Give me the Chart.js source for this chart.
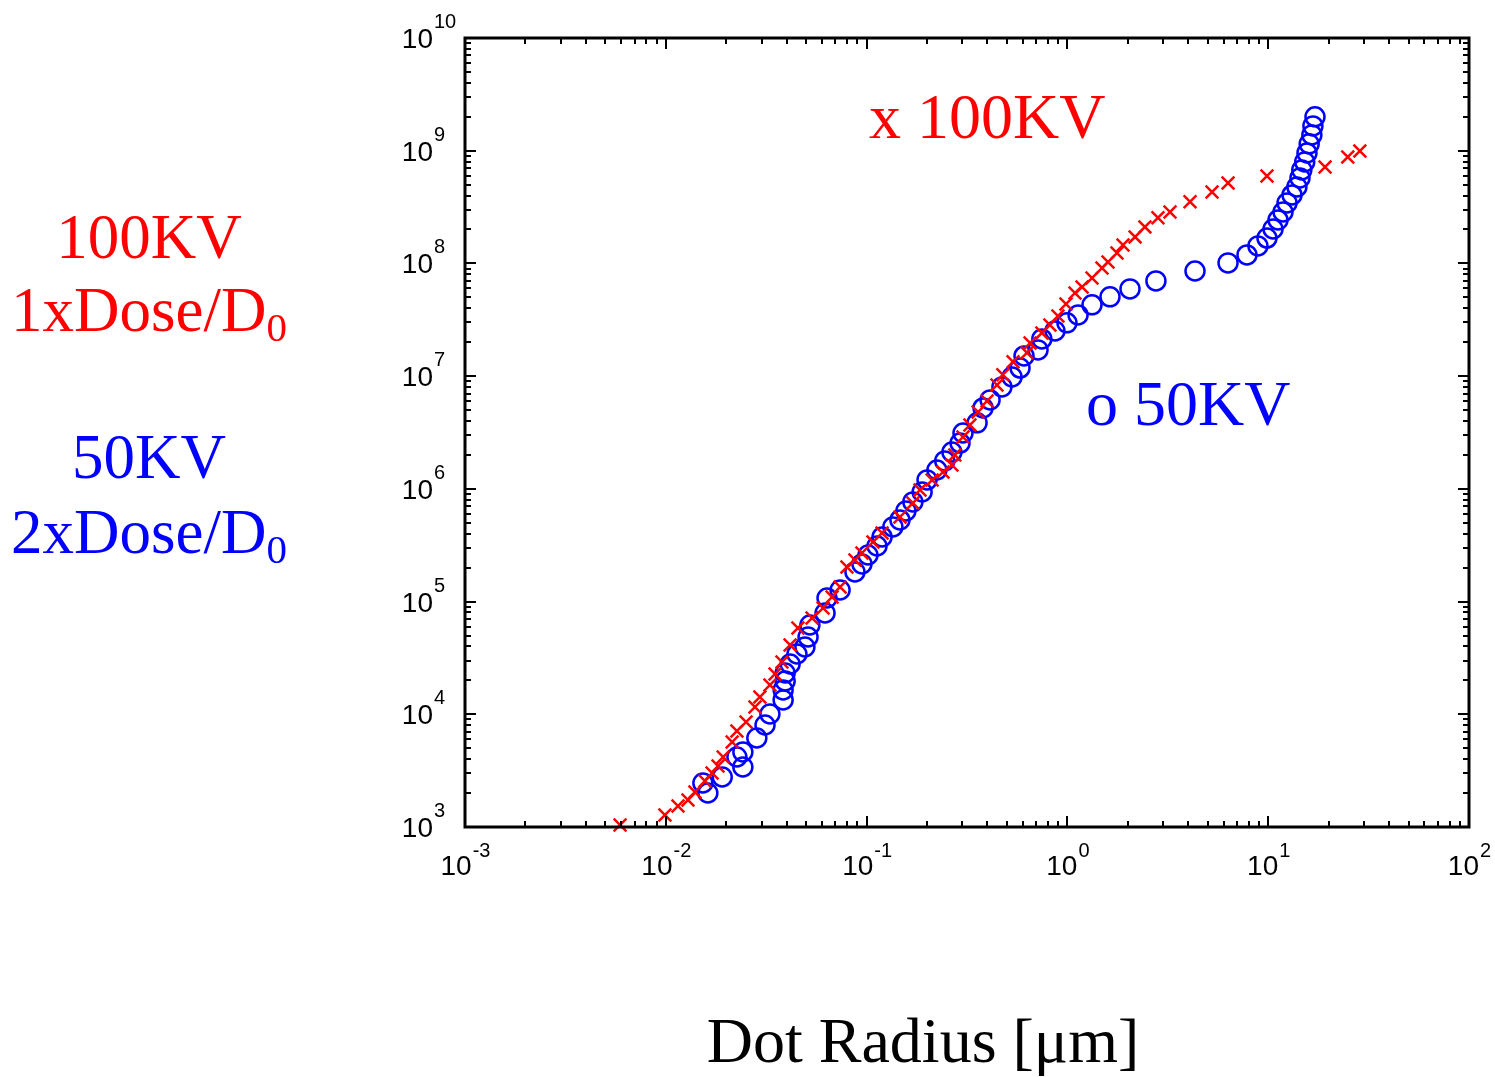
<html>

<head>
  <title>Dot Radius</title>
  <meta charset="utf-8">
  <script src="https://cdn.jsdelivr.net/npm/chart.js@4.4.0/dist/chart.umd.min.js"></script>
  <style>
    body { margin: 0; background: #fff; }
  </style>
</head>

<body>
  <canvas id="myChart" width="1495" height="1077"></canvas>

<script>
  // 100KV, 1xDose/D0 (red x)
  var redX = [0.00592, 0.0099, 0.0115, 0.0129, 0.01396, 0.01567, 0.0170, 0.0182, 0.0193, 0.0214,
    0.0226, 0.0251, 0.0278, 0.0294, 0.0330, 0.0350, 0.0379, 0.0416, 0.0455, 0.0535,
    0.0607, 0.0673, 0.0738, 0.0798, 0.0875, 0.0948, 0.1076, 0.1194, 0.1466, 0.170,
    0.1845, 0.212, 0.240, 0.266, 0.275, 0.302, 0.327, 0.359, 0.398, 0.446,
    0.477, 0.536, 0.629, 0.652, 0.746, 0.818, 0.897, 0.984, 1.091, 1.183,
    1.326, 1.487, 1.593, 1.766, 1.892, 2.173, 2.432, 2.825, 3.243, 4.08,
    5.25, 6.31, 9.86, 19.19, 24.9, 28.6];
  var redY = [1042, 1277, 1536, 1737, 2045, 2560, 3013, 3478, 4180, 5678,
    7112, 8547, 11610, 14230, 18200, 22800, 29100, 41200, 58300, 71600,
    87700, 109900, 134900, 202800, 233900, 269900, 338000, 406000, 563000, 750000,
    977000, 1.2e6, 1.41e6, 1.63e6, 2.0e6, 2.89e6, 3.69e6, 4.81e6, 6.03e6, 8.36e6,
    1.03e7, 1.34e7, 1.61e7, 1.97e7, 2.42e7, 2.84e7, 3.42e7, 4.37e7, 5.47e7, 6.18e7,
    7.43e7, 9.12e7, 1.03e8, 1.24e8, 1.46e8, 1.72e8, 2.11e8, 2.54e8, 2.86e8, 3.52e8,
    4.31e8, 5.18e8, 5.97e8, 7.18e8, 8.81e8, 9.96e8];

  // 50KV, 2xDose/D0 (blue o)
  var blueX = [0.0162, 0.0153, 0.0191, 0.0242, 0.0226, 0.0242, 0.0284, 0.0312, 0.0330, 0.0384,
    0.0384, 0.0393, 0.0393, 0.0416, 0.0450, 0.0493, 0.0511, 0.0522, 0.0621, 0.0635,
    0.0738, 0.0875, 0.0948, 0.1016, 0.1127, 0.1194, 0.1352, 0.1466, 0.157, 0.170,
    0.189, 0.200, 0.224, 0.245, 0.266, 0.292, 0.302, 0.355, 0.380, 0.412,
    0.472, 0.530, 0.581, 0.608, 0.714, 0.746, 0.867, 0.995, 1.13, 1.326,
    1.63, 2.05, 2.76, 4.32, 6.31, 7.84, 8.89, 9.86, 10.57, 11.19,
    11.85, 12.41, 13.14, 13.9, 14.4, 14.7, 15.2, 15.6, 16.0, 16.5,
    16.7, 17.1];
  var blueY = [2003, 2457, 2778, 3408, 4180, 4628, 6160, 8035, 10060, 13400,
    16430, 19740, 23250, 27940, 34270, 39550, 48500, 61950, 79200, 107600,
    126700, 183200, 215700, 258900, 311300, 374200, 459200, 529700, 636800, 765300,
    938000, 1.2e6, 1.47e6, 1.77e6, 2.12e6, 2.55e6, 3.13e6, 3.85e6, 5.22e6, 6.15e6,
    8.02e6, 9.84e6, 1.18e7, 1.51e7, 1.71e7, 2.14e7, 2.52e7, 2.97e7, 3.49e7, 4.29e7,
    5.05e7, 5.94e7, 7.0e7, 8.57e7, 1.01e8, 1.19e8, 1.43e8, 1.68e8, 2.02e8, 2.43e8,
    2.86e8, 3.44e8, 4.05e8, 4.77e8, 5.74e8, 6.76e8, 7.96e8, 9.55e8, 1.15e9, 1.38e9,
    1.66e9, 2.0e9];

  var xTicks = [1e-3, 1e-2, 1e-1, 1e0, 1e1, 1e2];
  var yTicks = [1e3, 1e4, 1e5, 1e6, 1e7, 1e8, 1e9, 1e10];
  var xTitle = 'Dot Radius [\u03bcm]';

  function pts(xs, ys) {
    return xs.map(function (x, i) { return { x: x, y: ys[i] }; });
  }

  var serif = '"Liberation Serif", "Times New Roman", serif';
  var sans = '"Liberation Sans", Arial, sans-serif';

  // frame with inward ticks on all four sides, tick labels and the texts
  var frame = {
    id: 'frame',
    afterDraw: function (chart) {
      var c = chart.ctx, a = chart.chartArea;
      var xs = chart.scales.x, ys = chart.scales.y;
      c.save();
      c.strokeStyle = '#000';
      c.lineWidth = 2;
      c.beginPath();
      for (var e = -3; e <= 2; e++) {
        for (var k = 1; k <= 9; k++) {
          var v = k * Math.pow(10, e);
          if (v > 100.001) break;
          var px = Math.round(xs.getPixelForValue(v)), len = k == 1 ? 11 : 6;
          c.moveTo(px, a.bottom); c.lineTo(px, a.bottom - len);
          c.moveTo(px, a.top); c.lineTo(px, a.top + len);
        }
      }
      for (var e = 3; e <= 10; e++) {
        for (var k = 1; k <= 9; k++) {
          var v = k * Math.pow(10, e);
          if (v > 1.0001e10) break;
          var py = Math.round(ys.getPixelForValue(v)), len = k == 1 ? 11 : 6;
          c.moveTo(a.left, py); c.lineTo(a.left + len, py);
          c.moveTo(a.right, py); c.lineTo(a.right - len, py);
        }
      }
      c.stroke();
      c.lineWidth = 3;
      c.strokeRect(a.left, a.top, a.right - a.left, a.bottom - a.top);

      // tick labels 10^n
      c.fillStyle = '#000';
      c.textBaseline = 'alphabetic';
      xTicks.forEach(function (v) {
        var ex = String(Math.round(Math.log10(v)));
        c.font = '28px ' + sans;
        var w1 = c.measureText('10').width;
        c.font = '20px ' + sans;
        var w2 = c.measureText(ex).width;
        var x0 = xs.getPixelForValue(v) - (w1 + w2) / 2;
        c.font = '28px ' + sans;
        c.textAlign = 'left';
        c.fillText('10', x0, a.bottom + 48);
        c.font = '20px ' + sans;
        c.fillText(ex, x0 + w1 + 1, a.bottom + 30);
      });
      yTicks.forEach(function (v) {
        var ex = String(Math.round(Math.log10(v)));
        var py = ys.getPixelForValue(v);
        c.font = '28px ' + sans;
        c.textAlign = 'right';
        c.fillText('10', a.left - 32, py + 10);
        c.font = '20px ' + sans;
        c.textAlign = 'left';
        c.fillText(ex, a.left - 31, py - 10);
      });

      // axis title
      c.font = '64px ' + serif;
      c.textAlign = 'center';
      c.fillText(xTitle, 923, 1062);

      // in-plot labels
      c.textAlign = 'left';
      c.fillStyle = '#ff0000';
      c.fillText('x 100KV', 869, 138);
      c.fillStyle = '#0000ff';
      c.fillText('o 50KV', 1086, 425);

      // left side labels
      function sub(txt, s, cx, base, col) {
        c.fillStyle = col;
        c.font = '63px ' + serif;
        var w1 = c.measureText(txt).width;
        c.font = '41px ' + serif;
        var w2 = c.measureText(s).width;
        var x0 = cx - (w1 + w2) / 2;
        c.textAlign = 'left';
        c.font = '63px ' + serif;
        c.fillText(txt, x0, base);
        c.font = '41px ' + serif;
        c.fillText(s, x0 + w1, base + 10);
      }
      c.font = '63px ' + serif;
      c.textAlign = 'center';
      c.fillStyle = '#ff0000';
      c.fillText('100KV', 149, 258);
      sub('1xDose/D', '0', 149, 331, '#ff0000');
      c.font = '63px ' + serif;
      c.textAlign = 'center';
      c.fillStyle = '#0000ff';
      c.fillText('50KV', 149, 478);
      sub('2xDose/D', '0', 149, 553, '#0000ff');
      c.restore();
    }
  };

  var ctx = document.getElementById('myChart').getContext('2d');
  var chart = new Chart(ctx, {
    type: 'scatter',
    data: {
      datasets: [
        {
          label: '100KV',
          data: pts(redX, redY),
          pointStyle: 'crossRot',
          pointRadius: 9,
          pointHoverRadius: 9,
          borderColor: '#ff0000',
          backgroundColor: '#ff0000',
          borderWidth: 2.5,
          clip: false
        },
        {
          label: '50KV',
          data: pts(blueX, blueY),
          pointStyle: 'circle',
          pointRadius: 9.5,
          pointHoverRadius: 9.5,
          borderColor: '#0000ff',
          backgroundColor: 'rgba(0,0,0,0)',
          borderWidth: 2.5,
          clip: false
        }
      ]
    },
    options: {
      responsive: false,
      animation: false,
      layout: { padding: { top: 38, right: 26, left: 0, bottom: 0 } },
      plugins: {
        legend: { display: false },
        tooltip: { enabled: false }
      },
      scales: {
        x: {
          type: 'logarithmic',
          min: 1e-3,
          max: 1e2,
          grid: { display: false },
          border: { display: false },
          ticks: { display: false },
          afterFit: function (s) { s.height = 250; }
        },
        y: {
          type: 'logarithmic',
          min: 1e3,
          max: 1e10,
          grid: { display: false },
          border: { display: false },
          ticks: { display: false },
          afterFit: function (s) { s.width = 465; }
        }
      }
    },
    plugins: [frame]
  });
</script>

</body>

</html>
